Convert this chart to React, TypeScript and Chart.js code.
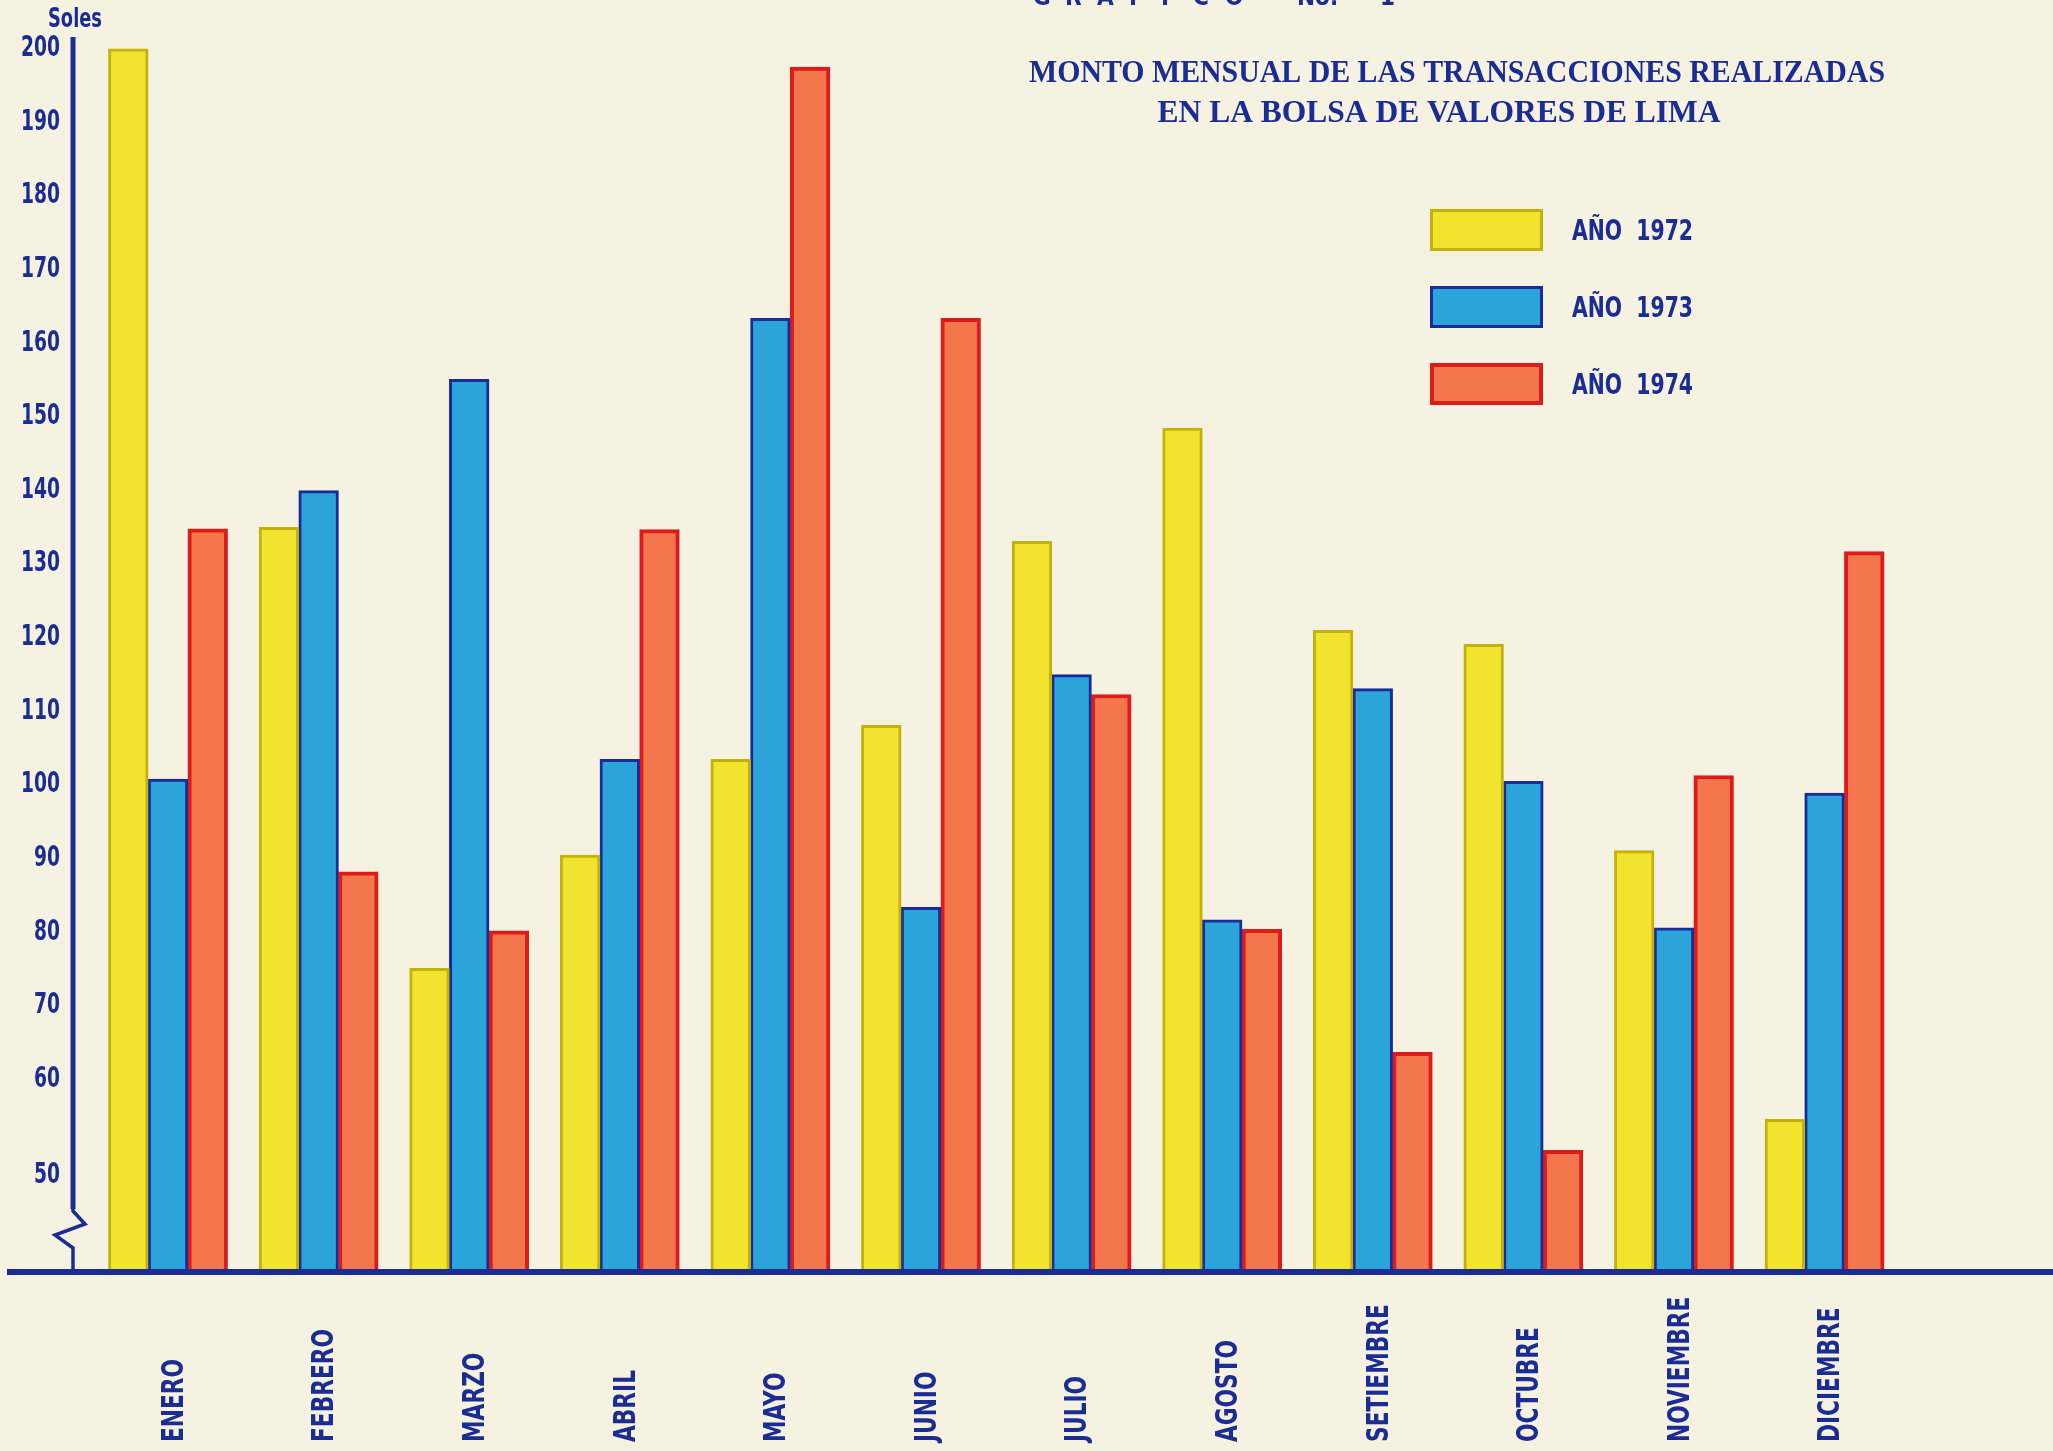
import React, { useEffect, useRef } from 'react';
import { Chart, registerables } from 'chart.js';

Chart.register(...registerables);

// ---------- DATA ----------
const MONTHS = ['ENERO', 'FEBRERO', 'MARZO', 'ABRIL', 'MAYO', 'JUNIO', 'JULIO', 'AGOSTO', 'SETIEMBRE', 'OCTUBRE', 'NOVIEMBRE', 'DICIEMBRE'];
const SERIES_LABELS = ['AÑO  1972', 'AÑO  1973', 'AÑO  1974'];
const Y1972 = [200, 135, 75.1, 90.5, 103.5, 108.1, 133.1, 148.5, 121, 119.1, 91.1, 54.6];
const Y1973 = [100.8, 140, 155.1, 103.5, 163.4, 83.4, 115, 81.7, 113.1, 100.5, 80.6, 98.9];
const Y1974 = [134.8, 88.2, 80.2, 134.7, 197.5, 163.4, 112.3, 80.4, 63.7, 50.4, 101.3, 131.7];
// the axis is broken below 60: the "50" label sits a little lower than a linear 50
const Y_TICK_VALUES = [47, 60, 70, 80, 90, 100, 110, 120, 130, 140, 150, 160, 170, 180, 190, 200];
const Y_TICK_LABELS = ['50', '60', '70', '80', '90', '100', '110', '120', '130', '140', '150', '160', '170', '180', '190', '200'];
const Y_UNIT = 'Soles';
const TITLE_LINES = ['MONTO MENSUAL DE LAS TRANSACCIONES REALIZADAS', 'EN LA BOLSA DE VALORES DE LIMA'];
const CHART_WORD = ['G', 'R', 'A', 'F', 'I', 'C', 'O'];
const CHART_NO = 'No.';
const CHART_NUM = '1';

// ---------- STYLE ----------
const W = 2053;
const H = 1451;
const BG = '#f5f2e2';
const NAVY = '#1b2c92';
const NARROW = '"Liberation Sans Narrow", "DejaVu Sans Condensed", "Liberation Sans", sans-serif';
const SERIF = '"Liberation Serif", "DejaVu Serif", serif';
const FILLS = ['#f2e42e', '#2ba5d9', '#f4764d'];
const BORDERS = ['#c4b20c', '#1b2b99', '#de1b1b'];
const BORDER_W = [3, 3, 4];

// draw text squeezed horizontally by factor sx (condensed type)
function squeezed(c: CanvasRenderingContext2D, t: string, x: number, y: number, sx: number) {
  c.save();
  c.translate(x, y);
  c.scale(sx, 1);
  c.fillText(t, 0, 0);
  c.restore();
}

const decor = {
  id: 'decor',
  beforeDraw(chart: any) {
    const c = chart.ctx;
    c.save();
    c.fillStyle = BG;
    c.fillRect(0, 0, chart.width, chart.height);
    c.restore();
  },
  afterDatasetsDraw(chart: any) {
    const c = chart.ctx;
    const { left, top, bottom } = chart.chartArea;
    c.save();
    c.strokeStyle = NAVY;
    c.lineCap = 'butt';
    c.lineJoin = 'miter';
    c.lineWidth = 5;
    c.beginPath();
    c.moveTo(left, top);
    c.lineTo(left, bottom - 62);
    c.stroke();
    c.lineWidth = 3.5;
    c.beginPath();
    c.moveTo(left, bottom - 64);
    c.lineTo(left, bottom - 60);
    c.lineTo(left + 12, bottom - 47);
    c.lineTo(left - 18, bottom - 36);
    c.lineTo(left, bottom - 23);
    c.lineTo(left, bottom);
    c.stroke();
    c.lineWidth = 6;
    c.beginPath();
    c.moveTo(7, bottom + 1);
    c.lineTo(chart.width, bottom + 1);
    c.stroke();
    c.restore();
  },
  afterDraw(chart: any) {
    const c = chart.ctx;
    const { bottom } = chart.chartArea;
    const xs = chart.scales.x;
    const ys = chart.scales.y;
    c.save();
    c.fillStyle = NAVY;

    // y tick labels, placed by the y scale
    c.font = `bold 28px ${NARROW}`;
    c.textAlign = 'right';
    c.textBaseline = 'middle';
    const s200 = 39 / c.measureText('200').width;
    ys.ticks.forEach((tk: any, i: number) => {
      squeezed(c, Y_TICK_LABELS[i], 60, ys.getPixelForValue(tk.value), s200);
    });

    // month labels, rotated, reading upward
    c.font = `bold 30px ${NARROW}`;
    c.textAlign = 'left';
    c.textBaseline = 'middle';
    const sm = 83 / c.measureText('ENERO').width;
    MONTHS.forEach((m, i) => {
      const x = xs.getPixelForValue(i) + 7;
      c.save();
      c.translate(x, bottom + 171);
      c.rotate(-Math.PI / 2);
      c.scale(sm, 1);
      c.fillText(m, 0, 0);
      c.restore();
    });

    // unit label
    c.font = `bold 27px ${NARROW}`;
    c.textAlign = 'left';
    c.textBaseline = 'alphabetic';
    squeezed(c, Y_UNIT, 48, 27, 54 / c.measureText(Y_UNIT).width);

    // "GRAFICO No. 1" (cut at the top edge)
    c.font = `bold 24px ${NARROW}`;
    CHART_WORD.forEach((ch, i) => c.fillText(ch, 1033 + i * 32, 5));
    c.fillText(CHART_NO, 1297, 5);
    c.fillText(CHART_NUM, 1380, 5);

    // title
    c.font = `bold 32px ${SERIF}`;
    c.textAlign = 'left';
    const targets = [
      { cx: 1457, w: 856, base: 82 },
      { cx: 1439, w: 563, base: 122 },
    ];
    TITLE_LINES.forEach((t, i) => {
      const m = c.measureText(t).width;
      squeezed(c, t, targets[i].cx - targets[i].w / 2, targets[i].base, targets[i].w / m);
    });

    // legend
    chart.data.datasets.forEach((ds: any, i: number) => {
      const y0 = 209 + i * 77;
      const bw = ds.borderWidth;
      c.fillStyle = ds.backgroundColor;
      c.fillRect(1430, y0, 113, 42);
      c.strokeStyle = ds.borderColor;
      c.lineWidth = bw;
      c.strokeRect(1430 + bw / 2, y0 + bw / 2, 113 - bw, 42 - bw);
      c.fillStyle = NAVY;
      c.font = `bold 29px ${NARROW}`;
      c.textBaseline = 'middle';
      squeezed(c, ds.label, 1572, y0 + 23, 121 / c.measureText(ds.label).width);
    });
    c.restore();
  },
};

export default function App() {
  const ref = useRef<HTMLCanvasElement>(null);
  useEffect(() => {
    const canvas = ref.current;
    if (!canvas) return;
    const series = [Y1972, Y1973, Y1974];
    const chart = new Chart(canvas, {
      type: 'bar',
      data: {
        datasets: series.map((vals, k) => ({
          label: SERIES_LABELS[k],
          data: vals.map((v, i) => ({ x: i, y: v })),
          backgroundColor: FILLS[k],
          borderColor: BORDERS[k],
          borderWidth: BORDER_W[k],
          borderSkipped: 'start',
          barThickness: 39.7,
        })),
      },
      options: {
        responsive: false,
        animation: false,
        devicePixelRatio: 1,
        layout: { padding: { top: 37, bottom: 180, left: 0, right: 0 } },
        plugins: {
          legend: { display: false },
          tooltip: { enabled: false },
          title: { display: false },
        },
        scales: {
          x: {
            type: 'linear',
            min: -0.631,
            max: 12.517,
            offset: false,
            display: false,
          },
          y: {
            type: 'linear',
            min: 34,
            max: 201.6,
            grid: { display: false, drawTicks: false },
            border: { display: false },
            afterFit: (s: any) => {
              s.width = 73;
            },
            afterBuildTicks: (s: any) => {
              s.ticks = Y_TICK_VALUES.map((v) => ({ value: v }));
            },
            ticks: {
              autoSkip: false,
              padding: 13,
              color: 'rgba(0,0,0,0)',
              font: { family: NARROW, size: 28, weight: 'bold' },
              callback: (_v: any, i: number) => Y_TICK_LABELS[i],
            },
          },
        },
      },
      plugins: [decor],
    } as any);
    return () => chart.destroy();
  }, []);

  return (
    <div style={{ position: 'fixed', left: 0, top: 0, width: W, height: H, background: BG }}>
      <canvas ref={ref} width={W} height={H} style={{ display: 'block', width: W, height: H }} />
    </div>
  );
}
